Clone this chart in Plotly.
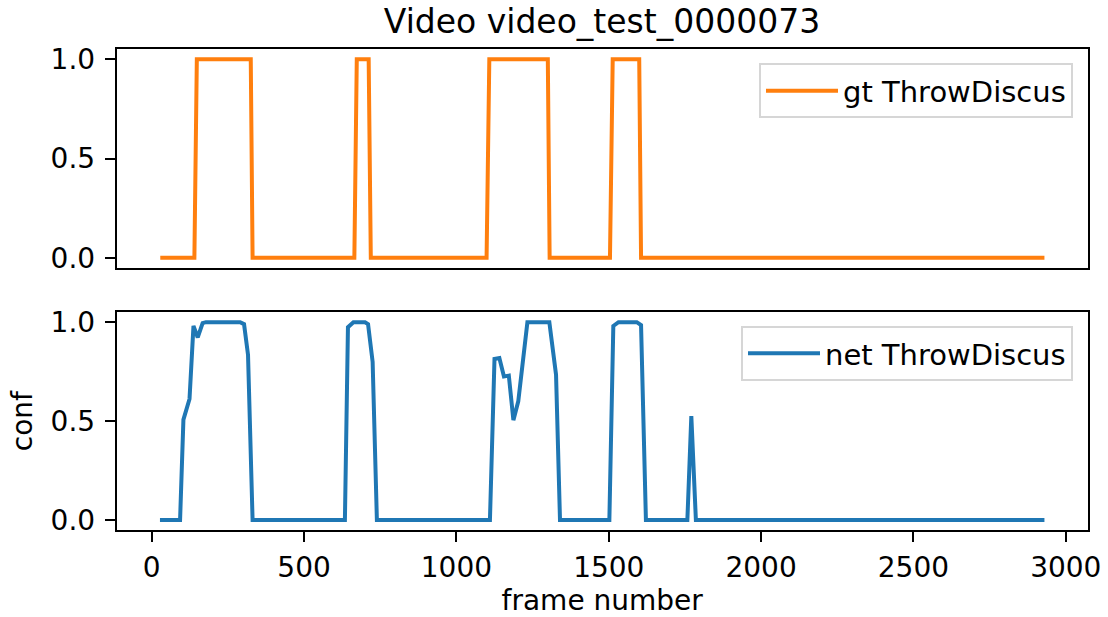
import plotly.graph_objects as go

# Ground-truth annotation for ThrowDiscus (frame -> 0/1)
gt_frames = [28, 140, 148, 325, 331, 665, 673, 712, 719, 1099, 1108, 1300, 1306,
             1504, 1513, 1600, 1606, 2930]
gt_values = [0, 0, 1, 1, 0, 0, 1, 1, 0, 0, 1, 1, 0, 0, 1, 1, 0, 0]

# Network confidence for ThrowDiscus
net_frames = [27, 93, 104, 124, 137, 151, 167, 178, 290, 303, 316, 331,
              634, 644, 662, 700, 710, 725, 739,
              1110, 1125, 1141, 1156, 1172, 1187, 1203, 1233, 1305, 1327, 1340,
              1502, 1515, 1532, 1592, 1606, 1622,
              1758, 1771, 1786, 2930]
net_values = [0.0, 0.0, 0.508, 0.612, 0.981, 0.923, 0.995, 1.0, 1.0, 0.99, 0.835, 0.0,
              0.0, 0.975, 1.0, 1.0, 0.99, 0.80, 0.0,
              0.0, 0.814, 0.819, 0.726, 0.73, 0.505, 0.60, 1.0, 1.0, 0.735, 0.0,
              0.0, 0.981, 1.0, 1.0, 0.985, 0.0,
              0.0, 0.525, 0.0, 0.0]

x_ticks = [0, 500, 1000, 1500, 2000, 2500, 3000]
y_ticks = [0.0, 0.5, 1.0]
y_ticklabels = ["0.0", "0.5", "1.0"]

title_text = "Video video_test_0000073"
gt_name = "gt ThrowDiscus"
net_name = "net ThrowDiscus"

W, H = 1108, 617
FONT = "DejaVu Sans"
TICK_SIZE = 28

fig = go.Figure()
fig.add_trace(go.Scatter(x=gt_frames, y=gt_values, mode="lines", name=gt_name,
                         line=dict(color="#ff7f0e", width=4),
                         xaxis="x", yaxis="y", legend="legend"))
fig.add_trace(go.Scatter(x=net_frames, y=net_values, mode="lines", name=net_name,
                         line=dict(color="#1f77b4", width=4),
                         xaxis="x2", yaxis="y2", legend="legend2"))

x_dom = [116.7 / W, 1087.7 / W]
top_dom = [1 - 267.7 / H, 1 - 49.3 / H]
bot_dom = [1 - 530.0 / H, 1 - 312.3 / H]
x_range = [-115, 3072]
y_range = [-0.05, 1.05]

axis_common = dict(showline=True, linecolor="black", linewidth=2, mirror=True,
                   showgrid=False, zeroline=False, automargin=False,
                   tickfont=dict(family=FONT, size=TICK_SIZE, color="black"))

legend_common = dict(bgcolor="rgba(255,255,255,0.8)", bordercolor="rgba(204,204,204,0.8)",
                     borderwidth=2, font=dict(family=FONT, size=29, color="black"),
                     xanchor="right", yanchor="top", x=1073 / W, itemwidth=72)

fig.update_layout(
    width=W, height=H,
    margin=dict(l=0, r=0, t=0, b=0, autoexpand=False),
    paper_bgcolor="white", plot_bgcolor="white",
    showlegend=True,
    title=dict(text=title_text, x=602 / W, y=1 - 21 / H, xanchor="center", yanchor="middle",
               xref="paper", yref="paper", automargin=False,
               font=dict(family=FONT, size=33, color="black")),
    xaxis=dict(domain=x_dom, range=x_range, anchor="y", showticklabels=False, ticks="",
               **axis_common),
    yaxis=dict(domain=top_dom, range=y_range, anchor="x", tickmode="array",
               tickvals=y_ticks, ticktext=y_ticklabels, ticks="outside", ticklen=10,
               tickwidth=2, tickcolor="black", ticklabelstandoff=4, **axis_common),
    xaxis2=dict(domain=x_dom, range=x_range, anchor="y2", tickmode="array",
                tickvals=x_ticks, ticks="outside", ticklen=10, tickwidth=2,
                tickcolor="black", ticklabelstandoff=1,
                title=dict(text="frame number", font=dict(family=FONT, size=TICK_SIZE,
                                                          color="black"), standoff=14),
                **axis_common),
    yaxis2=dict(domain=bot_dom, range=y_range, anchor="x2", tickmode="array",
                tickvals=y_ticks, ticktext=y_ticklabels, ticks="outside", ticklen=10,
                tickwidth=2, tickcolor="black", ticklabelstandoff=4,
                title=dict(text="conf", font=dict(family=FONT, size=TICK_SIZE,
                                                  color="black"), standoff=10),
                **axis_common),
    legend=dict(y=1 - 63.3 / H, **legend_common),
    legend2=dict(y=1 - 326 / H, **legend_common),
)

fig.write_html("out.html")
